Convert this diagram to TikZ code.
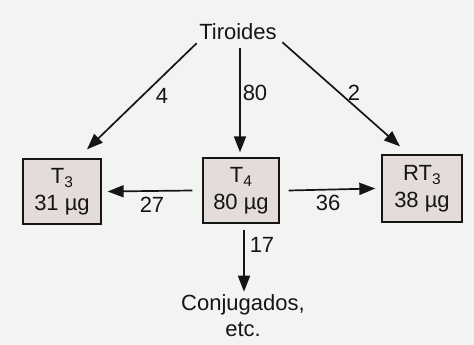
\documentclass[tikz,border=0pt]{standalone}
\usepackage{fontspec}
\setmainfont{Liberation Sans}
\usetikzlibrary{arrows.meta}
\definecolor{bgc}{HTML}{F3F3F1}
\definecolor{boxfill}{HTML}{E4DCDB}
\definecolor{ink}{HTML}{151515}
\newcommand\subn[1]{\raisebox{-0.4ex}{\fontsize{15.5}{15.5}\selectfont #1}}
\tikzset{
  every node/.style={text=ink, font=\fontsize{22}{26}\selectfont},
  pool/.style={draw=ink, line width=1.3pt, fill=boxfill, inner sep=0pt, align=center},
  flow/.style={draw=ink, line width=1.7pt, -{Triangle[length=16pt,width=12pt]}},
  lbl/.style={inner sep=0pt},
}
\begin{document}
\begin{tikzpicture}[x=1pt,y=-1pt]
\fill[bgc] (0,0) rectangle (474,345);
\useasboundingbox (0,0) rectangle (474,345);
\node[lbl] (tir) at (238,32) {Tiroides};
\node[pool, minimum width=78pt, minimum height=65pt] (t3) at (62,191.5) {T\subn{3}\\[1pt]31 µg};
\node[pool, minimum width=76pt, minimum height=65pt] (t4) at (241,190.5) {T\subn{4}\\[1pt]80 µg};
\node[pool, minimum width=80pt, minimum height=67pt] (rt3) at (422,188.5) {RT\subn{3}\\[1pt]38 µg};
\node[lbl, align=center] (conj) at (243,316) {Conjugados,\\[0pt]etc.};
\draw[flow] ([shift={(-2.5pt,-3pt)}]tir.south west) -- ([shift={(25pt,9pt)}]t3.north);
\draw[flow] ([shift={(2pt,-8pt)}]tir.south) -- ([shift={(-1pt,5pt)}]t4.north);
\draw[flow] ([shift={(5.5pt,-2pt)}]tir.south east) -- ([shift={(-22pt,8pt)}]rt3.north);
\draw[flow] ([xshift=-10pt]t4.west) -- ([xshift=6pt]t3.east);
\draw[flow] ([xshift=9pt]t4.east) -- ([xshift=-6pt]rt3.west);
\draw[flow] ([shift={(3pt,-6pt)}]t4.south) -- ([shift={(1pt,3pt)}]conj.north);
\node[lbl] (l4) at (162,96) {4};
\node[lbl] (l80) at (255,93) {80};
\node[lbl] (l2) at (354,93) {2};
\node[lbl] (l27) at (152,205) {27};
\node[lbl] (l36) at (328,203) {36};
\node[lbl] (l17) at (262,245) {17};
\end{tikzpicture}
\end{document}
